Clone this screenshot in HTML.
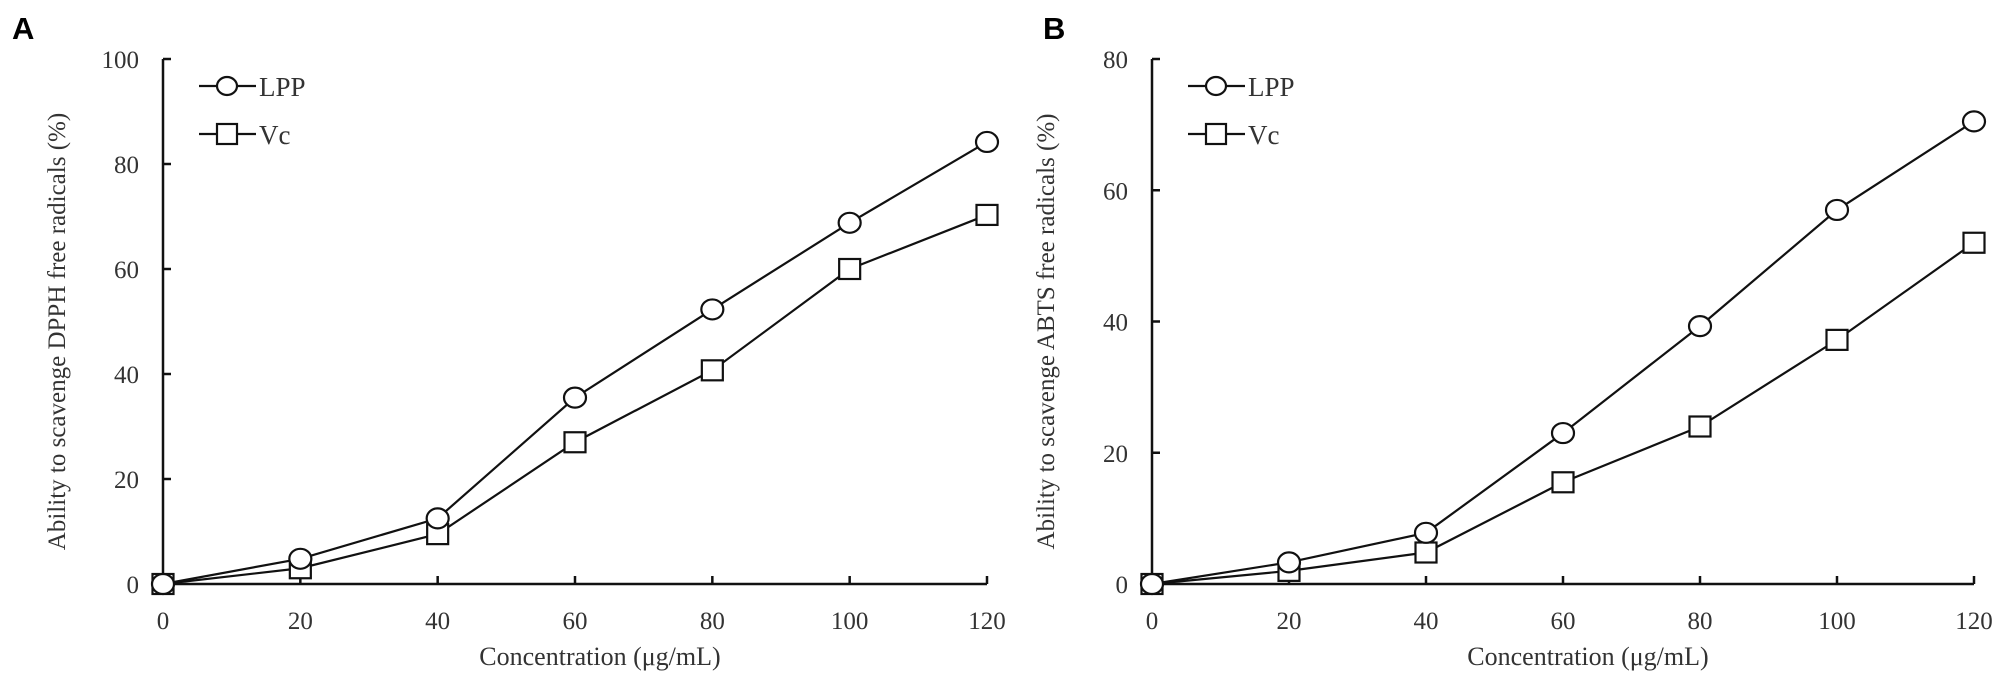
<!DOCTYPE html>
<html><head><meta charset="utf-8"><style>
html,body{margin:0;padding:0;background:#fff;}
svg{display:block;}
text{font-family:"Liberation Serif",serif;fill:#333;}
</style></head><body>
<svg id="c" width="2008" height="681" xmlns="http://www.w3.org/2000/svg"></svg>
<script>
const xCats=[0,20,40,60,80,100,120];
const aLPP=[0,4.8,12.5,35.5,52.3,68.8,84.2];
const aVc=[0,3,9.5,27,40.7,60,70.3];
const bLPP=[0,3.3,7.8,23,39.3,57,70.5];
const bVc=[0,2,4.8,15.5,24,37.2,52];
const aYTicks=[0,20,40,60,80,100];
const bYTicks=[0,20,40,60,80];
const NS="http://www.w3.org/2000/svg";
const svg=document.getElementById('c');
function mk(tag,attrs,parent){const e=document.createElementNS(NS,tag);for(const k in attrs)e.setAttribute(k,attrs[k]);(parent||svg).appendChild(e);return e;}
function panel(cfg){
  const g=mk('g',{});
  
  
  const x0=cfg.x0,x1=cfg.x1,y0=584,yTop=59,ymax=cfg.ymax;
  const sx=v=>x0+(v/120)*(x1-x0);
  const sy=v=>y0-(v/ymax)*(y0-yTop);
  const lt=mk('text',{x:cfg.lx,y:39,'font-size':31,'font-weight':'bold',style:'font-family:"Liberation Sans",sans-serif;fill:#000'},g);lt.textContent=cfg.letter;
  
  
  const ya=mk('line',{x1:x0,y1:yTop,x2:x0,y2:y0,stroke:'#111','stroke-width':2.5},g);
  
  
  const xa=mk('line',{x1:x0,y1:y0,x2:x1,y2:y0,stroke:'#111','stroke-width':2.5},g);
  
  
  cfg.yTicks.forEach(v=>{
    mk('line',{x1:x0,y1:sy(v),x2:x0+8,y2:sy(v),stroke:'#111','stroke-width':2.5},g);
    const t=mk('text',{x:x0-24,y:sy(v)+9,'font-size':25,'text-anchor':'end'},g);t.textContent=v;
    
    
  });
  xCats.forEach(v=>{
    if(v>0)mk('line',{x1:sx(v),y1:y0,x2:sx(v),y2:y0-8,stroke:'#111','stroke-width':2.5},g);
    const t=mk('text',{x:sx(v),y:629,'font-size':25,'text-anchor':'middle'},g);t.textContent=v;
    
    
  });
  const xt=mk('text',{x:(x0+x1)/2+25,y:665,'font-size':26,'text-anchor':'middle'},g);xt.textContent='Concentration (μg/mL)';
  
  
  const yt=mk('text',{x:0,y:0,'font-size':25,'text-anchor':'middle',transform:`translate(${x0-98},${(y0+yTop)/2+10}) rotate(-90)`},g);yt.textContent=cfg.ytitle;
  
  
  function series(vals,shape,nm){
    const pts=vals.map((v,i)=>sx(xCats[i])+','+sy(v)).join(' ');
    const pl=mk('polyline',{points:pts,fill:'none',stroke:'#111','stroke-width':2.2},g);
    
    
    vals.forEach((v,i)=>{
      let m;
      if(shape==='c')m=mk('ellipse',{cx:sx(xCats[i]),cy:sy(v),rx:11,ry:10,fill:'#fff',stroke:'#111','stroke-width':2.2},g);
      else m=mk('rect',{x:sx(xCats[i])-10.5,y:sy(v)-10,width:21,height:20,fill:'#fff',stroke:'#111','stroke-width':2.2},g);
      
      
    });
  }
  series(cfg.vc,'s','vc');
  series(cfg.lpp,'c','lpp');
  const lx=x0+36;
  [['LPP','c',86],['Vc','s',134]].forEach(([lab,sh,yy])=>{
    const lg=mk('g',{},lg0());
    function lg0(){return g;}
    
    
    mk('line',{x1:lx,y1:yy,x2:lx+57,y2:yy,stroke:'#111','stroke-width':2.2},lg);
    if(sh==='c')mk('ellipse',{cx:lx+28,cy:yy,rx:10,ry:9,fill:'#fff',stroke:'#111','stroke-width':2.2},lg);
    else mk('rect',{x:lx+18,y:yy-10,width:20,height:20,fill:'#fff',stroke:'#111','stroke-width':2.2},lg);
    const t=mk('text',{x:lx+60,y:yy+10,'font-size':27},lg);t.textContent=lab;
  });
}
panel({name:'panel-a-dpph',letter:'A',lx:12,x0:163,x1:987,ymax:100,yTicks:aYTicks,lpp:aLPP,vc:aVc,ytitle:'Ability to scavenge DPPH free radicals (%)'});
panel({name:'panel-b-abts',letter:'B',lx:1043,x0:1152,x1:1974,ymax:80,yTicks:bYTicks,lpp:bLPP,vc:bVc,ytitle:'Ability to scavenge ABTS free radicals (%)'});
</script>
</body></html>
